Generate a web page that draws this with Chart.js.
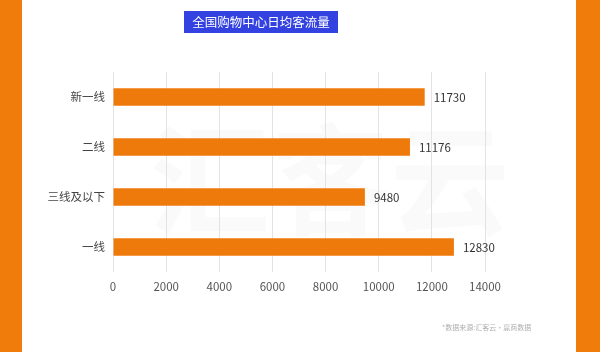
<!DOCTYPE html>
<html><head><meta charset="utf-8">
<script src="https://cdn.jsdelivr.net/npm/chart.js@4/dist/chart.umd.min.js"></script>
<style>html,body{margin:0;padding:0;background:#fff;overflow:hidden}canvas{display:block}</style>
</head><body>
<canvas id="c" width="600" height="352"></canvas>
<script>
const categories = ['新一线', '二线', '三线及以下', '一线'];
const values = [11730, 11176, 9480, 12830];
const tickValues = [0, 2000, 4000, 6000, 8000, 10000, 12000, 14000];
const titleText = '全国购物中心日均客流量';
const sourceText = '*数据来源:汇客云·赢商数据';
const FONT = '"Noto Sans CJK SC", "Noto Sans", sans-serif';

const decor = {
  id: 'decor',
  beforeDraw(chart) {
    const ctx = chart.ctx;
    ctx.save();
    ctx.fillStyle = '#fff';
    ctx.fillRect(0, 0, 600, 352);
    ctx.fillStyle = '#f07c0b';
    ctx.fillRect(0, 0, 22, 352);
    ctx.fillRect(576, 0, 24, 352);
    // watermark
    ctx.fillStyle = 'rgba(0,0,0,0.018)';
    ctx.font = 'bold 120px ' + FONT;
    ctx.textAlign = 'center';
    ctx.textBaseline = 'middle';
    ctx.fillText('汇客云', 330, 180);
    // title
    ctx.fillStyle = '#3241e0';
    ctx.fillRect(184, 11, 154, 22);
    ctx.fillStyle = '#fff';
    ctx.font = '12.5px ' + FONT;
    ctx.fillText(titleText, 261, 22.5);
    // source
    ctx.fillStyle = '#b0b0b0';
    ctx.font = '7px ' + FONT;
    ctx.textAlign = 'left';
    ctx.fillText(sourceText, 442, 327);
    ctx.restore();
  },
  afterDatasetsDraw(chart) {
    const ctx = chart.ctx;
    const meta = chart.getDatasetMeta(0);
    ctx.save();
    ctx.fillStyle = '#333';
    ctx.font = '11.5px ' + FONT;
    ctx.textAlign = 'left';
    ctx.textBaseline = 'middle';
    meta.data.forEach((bar, i) => {
      ctx.fillText(String(values[i]), bar.x + 9, bar.y + 1);
    });
    ctx.restore();
  }
};

new Chart(document.getElementById('c'), {
  type: 'bar',
  data: {
    labels: categories,
    datasets: [{
      data: values,
      backgroundColor: '#ef7a0c',
      borderWidth: 0,
      barPercentage: 0.35,
      categoryPercentage: 1
    }]
  },
  options: {
    indexAxis: 'y',
    responsive: false,
    animation: false,
    devicePixelRatio: 1,
    layout: { padding: { left: 0, top: 72, right: 115, bottom: 0 } },
    plugins: { legend: { display: false }, tooltip: { enabled: false }, title: { display: false } },
    scales: {
      x: {
        min: 0, max: 14000,
        afterBuildTicks(scale) { scale.ticks = tickValues.map(v => ({ value: v })); },
        afterFit(scale) { scale.height = 80; },
        grid: { color: '#e3e3e3', drawTicks: false },
        border: { display: false },
        ticks: { font: { family: FONT, size: 11.5 }, color: '#555', padding: 8, callback: (v) => String(v) }
      },
      y: {
        afterFit(scale) { scale.width = 113; },
        grid: { display: false, drawTicks: false },
        border: { display: false },
        ticks: { font: { family: FONT, size: 11.5 }, color: '#444', padding: 8 }
      }
    }
  },
  plugins: [decor]
});
</script>
</body></html>
